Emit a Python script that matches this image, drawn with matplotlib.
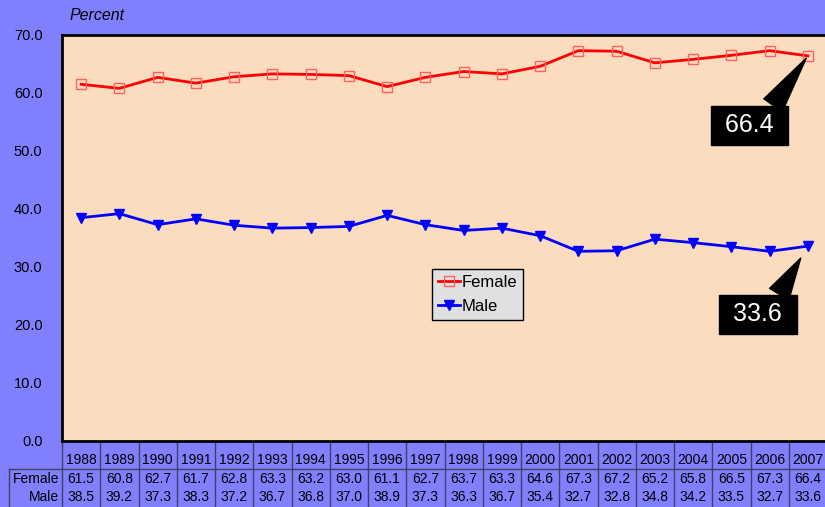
import numpy as np
import matplotlib
matplotlib.use("Agg")
import matplotlib.pyplot as plt
from matplotlib.transforms import blended_transform_factory

plt.rcParams['font.family'] = ['Liberation Sans', 'DejaVu Sans']

years = [1988, 1989, 1990, 1991, 1992, 1993, 1994, 1995, 1996, 1997,
         1998, 1999, 2000, 2001, 2002, 2003, 2004, 2005, 2006, 2007]
female = [61.5, 60.8, 62.7, 61.7, 62.8, 63.3, 63.2, 63.0, 61.1, 62.7,
          63.7, 63.3, 64.6, 67.3, 67.2, 65.2, 65.8, 66.5, 67.3, 66.4]
male = [38.5, 39.2, 37.3, 38.3, 37.2, 36.7, 36.8, 37.0, 38.9, 37.3,
        36.3, 36.7, 35.4, 32.7, 32.8, 34.8, 34.2, 33.5, 32.7, 33.6]
y_ticks = [0, 10, 20, 30, 40, 50, 60, 70]

W, H = 825, 507
fig = plt.figure(figsize=(W / 100, H / 100), dpi=100)
fig.patch.set_facecolor('#8080FF')

left, top, bottom = 62, 35, 441
ax = fig.add_axes([left / W, 1 - bottom / H, (W + 2 - left) / W, (bottom - top) / H])
ax.set_facecolor('#FCDCBE')

x = np.arange(len(years))
ax.plot(x, female, color='red', lw=2, marker='s', ms=7, mfc='none',
        mec='#FF6060', mew=1, label='Female', zorder=3)
ax.plot(x, male, color='blue', lw=2, marker='v', ms=7, mfc='blue',
        mec='blue', label='Male', zorder=3)

ax.set_xlim(-0.5, len(years) - 0.5)
ax.set_ylim(0, 70)
ax.set_yticks(y_ticks)
ax.set_yticklabels([f'{v:.1f}' for v in y_ticks], fontsize=10.5)
ax.set_xticks([])
ax.tick_params(axis='y', length=0, pad=14)
for s in ax.spines.values():
    s.set_linewidth(2)
    s.set_color('black')

fig.text(69 / W, 1 - 16 / H, 'Percent', style='italic', fontsize=11.5,
         ha='left', va='center')

leg = ax.legend(loc='upper left', bbox_to_anchor=((432 - left) / (W + 2 - left), (bottom - 269) / (bottom - top)),
                fontsize=12, frameon=True, fancybox=False, handlelength=1.3,
                handletextpad=0.1, borderpad=0.35, labelspacing=0.55, borderaxespad=0)
leg.get_frame().set_facecolor('#E0E0E0')
leg.get_frame().set_edgecolor('black')
leg.get_frame().set_linewidth(1)
leg.get_frame().set_alpha(1)
leg.set_zorder(6)

# callouts for the last values
callout = dict(textcoords='offset points', fontsize=18, color='white',
               ha='center', va='center',
               bbox=dict(boxstyle='square,pad=0.3', fc='black', ec='black'),
               zorder=5)
ax.annotate(f' {female[-1]:.1f} ', xy=(x[-1], female[-1]), xytext=(-42, -50),
            arrowprops=dict(arrowstyle='wedge,tail_width=0.9,shrink_factor=0.5',
                            fc='black', ec='black', shrinkA=0, shrinkB=2,
                            relpos=(0.65, 0.5)), **callout)
ax.annotate(f' {male[-1]:.1f} ', xy=(x[-1], male[-1]), xytext=(-36, -49),
            arrowprops=dict(arrowstyle='wedge,tail_width=0.9,shrink_factor=0.5',
                            fc='black', ec='black', shrinkA=0, shrinkB=10,
                            relpos=(0.65, 0.5)), **callout)

# data table below axis
tr = blended_transform_factory(ax.transData, fig.transFigure)
def fy(py):
    return 1 - py / H

row_year, row_f, row_m = 460, 479, 497
tab_top, tab_mid, tab_bot = 443, 469, 507
lbl_left = 9
lc = '#404060'
fs = 10
for i, yr in enumerate(years):
    ax.text(i, fy(row_year), str(yr), transform=tr, ha='center', va='center', fontsize=fs)
    ax.text(i, fy(row_f), f'{female[i]:.1f}', transform=tr, ha='center', va='center', fontsize=fs)
    ax.text(i, fy(row_m), f'{male[i]:.1f}', transform=tr, ha='center', va='center', fontsize=fs)
    ax.plot([i - 0.5, i - 0.5], [fy(tab_top), fy(tab_bot)], transform=tr, color=lc, lw=1, clip_on=False)
ax.plot([len(years) - 0.5] * 2, [fy(tab_top), fy(tab_bot)], transform=tr, color=lc, lw=1, clip_on=False)
fig.text((left - 3) / W, fy(row_f), 'Female', ha='right', va='center', fontsize=fs)
fig.text((left - 3) / W, fy(row_m), 'Male', ha='right', va='center', fontsize=fs)
fig.add_artist(plt.Line2D([lbl_left / W, 1], [fy(tab_mid), fy(tab_mid)], color=lc, lw=1))
fig.add_artist(plt.Line2D([lbl_left / W, lbl_left / W], [fy(tab_mid), fy(tab_bot)], color=lc, lw=1))

fig.savefig('out.png', dpi=100, facecolor=fig.get_facecolor())
